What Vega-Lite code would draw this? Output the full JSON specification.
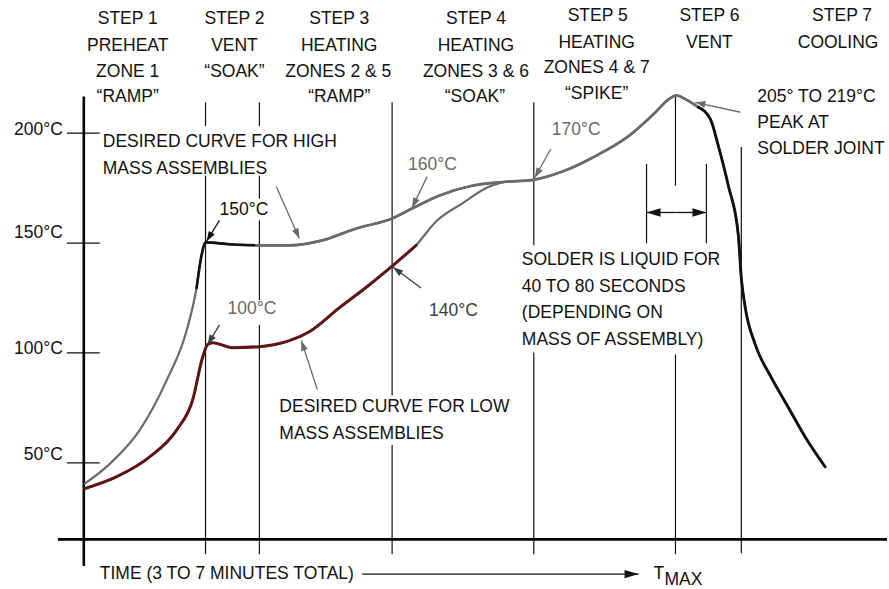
{
  "$schema": "https://vega.github.io/schema/vega-lite/v6.json",
  "width": 889,
  "height": 589,
  "padding": 0,
  "autosize": {"type": "fit", "contains": "padding"},
  "config": {"view": {"stroke": null}, "text": {"font": "Liberation Sans", "fontSize": 17.5}},
  "datasets": {
    "curves": [
      {"series": "high", "t": 1, "T": 40.53},
      {"series": "high", "t": 26, "T": 49.56},
      {"series": "high", "t": 56, "T": 64.92},
      {"series": "high", "t": 83, "T": 87.52},
      {"series": "high", "t": 103, "T": 110.11},
      {"series": "high", "t": 113, "T": 129.54},
      {"series": "high", "t": 118, "T": 144.45},
      {"series": "high", "t": 122, "T": 150.32},
      {"series": "high", "t": 146, "T": 149.42},
      {"series": "high", "t": 173, "T": 148.97},
      {"series": "high", "t": 206, "T": 148.97},
      {"series": "high", "t": 239, "T": 151.23},
      {"series": "high", "t": 273, "T": 156.64},
      {"series": "high", "t": 309, "T": 161.16},
      {"series": "high", "t": 329, "T": 165.68},
      {"series": "high", "t": 356, "T": 171.56},
      {"series": "high", "t": 389, "T": 176.07},
      {"series": "high", "t": 423, "T": 177.88},
      {"series": "high", "t": 451, "T": 178.78},
      {"series": "high", "t": 479, "T": 182.4},
      {"series": "high", "t": 513, "T": 189.63},
      {"series": "high", "t": 546, "T": 198.66},
      {"series": "high", "t": 573, "T": 209.51},
      {"series": "high", "t": 586, "T": 215.38},
      {"series": "high", "t": 594, "T": 217.19},
      {"series": "high", "t": 603, "T": 215.38},
      {"series": "high", "t": 616, "T": 211.76},
      {"series": "high", "t": 628, "T": 206.34},
      {"series": "high", "t": 636, "T": 194.14},
      {"series": "high", "t": 646, "T": 176.07},
      {"series": "high", "t": 656, "T": 153.48},
      {"series": "high", "t": 659, "T": 134.05},
      {"series": "high", "t": 663, "T": 120.48},
      {"series": "high", "t": 673, "T": 103.77},
      {"series": "high", "t": 689, "T": 88.86},
      {"series": "high", "t": 706, "T": 75.31},
      {"series": "high", "t": 723, "T": 61.76},
      {"series": "high", "t": 743, "T": 48.2},
      {"series": "low", "t": 1, "T": 38.27},
      {"series": "low", "t": 33, "T": 43.7},
      {"series": "low", "t": 66, "T": 52.73},
      {"series": "low", "t": 93, "T": 64.92},
      {"series": "low", "t": 109, "T": 78.48},
      {"series": "low", "t": 119, "T": 97.91},
      {"series": "low", "t": 124, "T": 103.77},
      {"series": "low", "t": 129, "T": 104.68},
      {"series": "low", "t": 149, "T": 102.42},
      {"series": "low", "t": 176, "T": 102.87},
      {"series": "low", "t": 206, "T": 105.58},
      {"series": "low", "t": 226, "T": 109.65},
      {"series": "low", "t": 256, "T": 120.49},
      {"series": "low", "t": 286, "T": 130.89},
      {"series": "low", "t": 309, "T": 139.47},
      {"series": "low", "t": 333, "T": 148.97},
      {"series": "low", "t": 353, "T": 159.82},
      {"series": "low", "t": 379, "T": 167.95},
      {"series": "low", "t": 406, "T": 175.63},
      {"series": "low", "t": 423, "T": 177.88}
    ],
    "overlays": [
      {"seg": "high-knee", "tone": "black", "t": 113, "T": 129.54},
      {"seg": "high-knee", "tone": "black", "t": 118, "T": 144.45},
      {"seg": "high-knee", "tone": "black", "t": 122, "T": 150.32},
      {"seg": "high-knee", "tone": "black", "t": 146, "T": 149.42},
      {"seg": "high-knee", "tone": "black", "t": 173, "T": 148.97},
      {"seg": "high-main", "tone": "gray", "t": 173, "T": 148.97},
      {"seg": "high-main", "tone": "gray", "t": 206, "T": 148.97},
      {"seg": "high-main", "tone": "gray", "t": 239, "T": 151.23},
      {"seg": "high-main", "tone": "gray", "t": 273, "T": 156.64},
      {"seg": "high-main", "tone": "gray", "t": 309, "T": 161.16},
      {"seg": "high-main", "tone": "gray", "t": 329, "T": 165.68},
      {"seg": "high-main", "tone": "gray", "t": 356, "T": 171.56},
      {"seg": "high-main", "tone": "gray", "t": 389, "T": 176.07},
      {"seg": "high-main", "tone": "gray", "t": 423, "T": 177.88},
      {"seg": "high-main", "tone": "gray", "t": 451, "T": 178.78},
      {"seg": "high-main", "tone": "gray", "t": 479, "T": 182.4},
      {"seg": "high-main", "tone": "gray", "t": 513, "T": 189.63},
      {"seg": "high-main", "tone": "gray", "t": 546, "T": 198.66},
      {"seg": "high-main", "tone": "gray", "t": 573, "T": 209.51},
      {"seg": "high-main", "tone": "gray", "t": 586, "T": 215.38},
      {"seg": "high-main", "tone": "gray", "t": 594, "T": 217.19},
      {"seg": "high-main", "tone": "gray", "t": 603, "T": 215.38},
      {"seg": "high-main", "tone": "gray", "t": 616, "T": 211.76},
      {"seg": "cooling", "tone": "black", "t": 616, "T": 211.76},
      {"seg": "cooling", "tone": "black", "t": 628, "T": 206.34},
      {"seg": "cooling", "tone": "black", "t": 636, "T": 194.14},
      {"seg": "cooling", "tone": "black", "t": 646, "T": 176.07},
      {"seg": "cooling", "tone": "black", "t": 656, "T": 153.48},
      {"seg": "cooling", "tone": "black", "t": 659, "T": 134.05},
      {"seg": "cooling", "tone": "black", "t": 663, "T": 120.48},
      {"seg": "cooling", "tone": "black", "t": 673, "T": 103.77},
      {"seg": "cooling", "tone": "black", "t": 689, "T": 88.86},
      {"seg": "cooling", "tone": "black", "t": 706, "T": 75.31},
      {"seg": "cooling", "tone": "black", "t": 723, "T": 61.76},
      {"seg": "cooling", "tone": "black", "t": 743, "T": 48.2},
      {"seg": "low-main", "tone": "maroon", "t": 1, "T": 38.27},
      {"seg": "low-main", "tone": "maroon", "t": 33, "T": 43.7},
      {"seg": "low-main", "tone": "maroon", "t": 66, "T": 52.73},
      {"seg": "low-main", "tone": "maroon", "t": 93, "T": 64.92},
      {"seg": "low-main", "tone": "maroon", "t": 109, "T": 78.48},
      {"seg": "low-main", "tone": "maroon", "t": 119, "T": 97.91},
      {"seg": "low-main", "tone": "maroon", "t": 124, "T": 103.77},
      {"seg": "low-main", "tone": "maroon", "t": 129, "T": 104.68},
      {"seg": "low-main", "tone": "maroon", "t": 149, "T": 102.42},
      {"seg": "low-main", "tone": "maroon", "t": 176, "T": 102.87},
      {"seg": "low-main", "tone": "maroon", "t": 206, "T": 105.58},
      {"seg": "low-main", "tone": "maroon", "t": 226, "T": 109.65},
      {"seg": "low-main", "tone": "maroon", "t": 256, "T": 120.49},
      {"seg": "low-main", "tone": "maroon", "t": 286, "T": 130.89},
      {"seg": "low-main", "tone": "maroon", "t": 309, "T": 139.47},
      {"seg": "low-main", "tone": "maroon", "t": 333, "T": 148.97}
    ],
    "vlines": [
      {"t": 122, "T": 214.0, "T2": 203.2}, {"t": 122, "T": 180.6, "T2": 8.45},
      {"t": 176, "T": 214.0, "T2": 203.2}, {"t": 176, "T": 180.6, "T2": 170.2},
      {"t": 176, "T": 160.3, "T2": 124.1}, {"t": 176, "T": 112.8, "T2": 8.45},
      {"t": 309, "T": 214.0, "T2": 80.7}, {"t": 309, "T": 58.1, "T2": 8.45},
      {"t": 451, "T": 214.0, "T2": 148.97}, {"t": 451, "T": 100.2, "T2": 8.45},
      {"t": 593, "T": 216.7, "T2": 176.1}, {"t": 593, "T": 99.3, "T2": 8.45},
      {"t": 659, "T": 193.7, "T2": 8.9},
      {"t": 564, "T": 186.0, "T2": 149.9},
      {"t": 624, "T": 186.0, "T2": 149.9}
    ],
    "ticks": [
      {"t": -17, "t2": 16, "T": 200},
      {"t": -17, "t2": 16, "T": 150},
      {"t": -17, "t2": 16, "T": 100},
      {"t": -17, "t2": 16, "T": 50}
    ],
    "axes": [
      {"t": 0, "t2": 0, "T": 216.7, "T2": 3.03},
      {"t": -26, "t2": 805, "T": 15.2, "T2": 15.2}
    ],
    "arrows": [
      {"kind": "small", "tone": "black", "t": 136, "T": 160.3, "t2": 123, "T2": 150.8},
      {"kind": "small", "tone": "dark", "t": 136, "T": 112.8, "t2": 124, "T2": 103.8},
      {"kind": "small", "tone": "gray", "t": 193, "T": 175.6, "t2": 216, "T2": 152.1},
      {"kind": "small", "tone": "gray", "t": 234, "T": 83.4, "t2": 218, "T2": 105.6},
      {"kind": "small", "tone": "gray", "t": 344, "T": 180.1, "t2": 329, "T2": 166.1},
      {"kind": "small", "tone": "dark", "t": 338, "T": 129.5, "t2": 310, "T2": 139.0},
      {"kind": "small", "tone": "gray", "t": 468, "T": 192.8, "t2": 452, "T2": 179.7},
      {"kind": "small", "tone": "gray", "t": 658, "T": 209.5, "t2": 613, "T2": 214.0},
      {"kind": "big", "tone": "black", "t": 594, "T": 163.9, "t2": 564, "T2": 163.9},
      {"kind": "big", "tone": "black", "t": 594, "T": 163.9, "t2": 624, "T2": 163.9},
      {"kind": "big", "tone": "black", "t": 279, "T": -0.6, "t2": 556, "T2": -0.6}
    ],
    "headers": [
      {"t": 44, "T": 252.0, "text": "STEP 1"},
      {"t": 44, "T": 239.8, "text": "PREHEAT"},
      {"t": 44, "T": 228.0, "text": "ZONE 1"},
      {"t": 44, "T": 216.3, "text": "“RAMP”"},
      {"t": 151, "T": 252.0, "text": "STEP 2"},
      {"t": 151, "T": 239.8, "text": "VENT"},
      {"t": 151, "T": 228.0, "text": "“SOAK”"},
      {"t": 256, "T": 252.0, "text": "STEP 3"},
      {"t": 256, "T": 239.8, "text": "HEATING"},
      {"t": 255, "T": 228.0, "text": "ZONES 2 & 5"},
      {"t": 256, "T": 216.3, "text": "“RAMP”"},
      {"t": 393, "T": 252.0, "text": "STEP 4"},
      {"t": 393, "T": 239.8, "text": "HEATING"},
      {"t": 393, "T": 228.0, "text": "ZONES 3 & 6"},
      {"t": 392, "T": 216.3, "text": "“SOAK”"},
      {"t": 515, "T": 253.3, "text": "STEP 5"},
      {"t": 514, "T": 241.1, "text": "HEATING"},
      {"t": 514, "T": 229.4, "text": "ZONES 4 & 7"},
      {"t": 514, "T": 217.6, "text": "“SPIKE”"},
      {"t": 627, "T": 253.3, "text": "STEP 6"},
      {"t": 627, "T": 241.1, "text": "VENT"},
      {"t": 760, "T": 253.3, "text": "STEP 7"},
      {"t": 756, "T": 241.1, "text": "COOLING"}
    ],
    "notes": [
      {"tone": "black", "t": 19, "T": 195.9, "text": "DESIRED CURVE FOR HIGH"},
      {"tone": "black", "t": 19, "T": 183.8, "text": "MASS ASSEMBLIES"},
      {"tone": "black", "t": 136, "T": 165.2, "text": "150°C"},
      {"tone": "gray", "t": 144, "T": 120.0, "text": "100°C"},
      {"tone": "black", "t": 196, "T": 75.3, "text": "DESIRED CURVE FOR LOW"},
      {"tone": "black", "t": 196, "T": 63.1, "text": "MASS ASSEMBLIES"},
      {"tone": "gray", "t": 325, "T": 185.6, "text": "160°C"},
      {"tone": "dark", "t": 346, "T": 119.1, "text": "140°C"},
      {"tone": "gray", "t": 469, "T": 201.4, "text": "170°C"},
      {"tone": "black", "t": 439, "T": 142.2, "text": "SOLDER IS LIQUID FOR"},
      {"tone": "black", "t": 439, "T": 130.0, "text": "40 TO 80 SECONDS"},
      {"tone": "black", "t": 439, "T": 118.2, "text": "(DEPENDING ON"},
      {"tone": "black", "t": 439, "T": 106.0, "text": "MASS OF ASSEMBLY)"},
      {"tone": "black", "t": 675, "T": 216.3, "text": "205° TO 219°C"},
      {"tone": "black", "t": 675, "T": 204.5, "text": "PEAK AT"},
      {"tone": "black", "t": 675, "T": 192.8, "text": "SOLDER JOINT"},
      {"tone": "black", "t": 16, "T": -0.6, "text": "TIME (3 TO 7 MINUTES TOTAL)"},
      {"tone": "black", "t": 571, "T": -0.6, "text": "T"},
      {"tone": "black", "t": 582, "T": -3.3, "text": "MAX"}
    ],
    "ylabels": [
      {"t": -21, "T": 201.4, "text": "200°C"},
      {"t": -21, "T": 154.4, "text": "150°C"},
      {"t": -21, "T": 101.97, "text": "100°C"},
      {"t": -21, "T": 53.6, "text": "50°C"}
    ]
  },
  "encoding": {
    "x": {"field": "t", "type": "quantitative", "scale": {"domain": [-84, 805], "nice": false, "zero": false}, "axis": null},
    "y": {"field": "T", "type": "quantitative", "scale": {"domain": [-5.56, 260.56], "nice": false, "zero": false}, "axis": null}
  },
  "layer": [
    {
      "data": {"name": "vlines"},
      "mark": {"type": "rule", "color": "#111111", "strokeWidth": 1.2},
      "encoding": {"y2": {"field": "T2"}}
    },
    {
      "data": {"name": "ticks"},
      "mark": {"type": "rule", "color": "#111111", "strokeWidth": 1.2},
      "encoding": {"x2": {"field": "t2"}}
    },
    {
      "data": {"name": "axes"},
      "mark": {"type": "rule", "color": "#000000", "strokeWidth": 2.6},
      "encoding": {"x2": {"field": "t2"}, "y2": {"field": "T2"}}
    },
    {
      "data": {"name": "curves"},
      "mark": {"type": "line", "interpolate": "monotone", "color": "#6a6a6a", "strokeWidth": 2.2, "strokeCap": "round", "strokeJoin": "round"},
      "encoding": {"detail": {"field": "series", "type": "nominal"}}
    },
    {
      "data": {"name": "overlays"},
      "mark": {"type": "line", "interpolate": "monotone", "strokeCap": "round", "strokeJoin": "round"},
      "encoding": {
        "detail": {"field": "seg", "type": "nominal"},
        "color": {"field": "tone", "type": "nominal", "legend": null,
          "scale": {"domain": ["black", "gray", "dark", "maroon"], "range": ["#111111", "#6a6a6a", "#3c3c3c", "#5e1515"]}},
        "strokeWidth": {"field": "seg", "type": "nominal", "legend": null,
          "scale": {"domain": ["high-knee", "high-main", "cooling", "low-main"], "range": [2.6, 3, 3.6, 3.2]}}
      }
    },
    {
      "data": {"name": "arrows"},
      "mark": {"type": "rule", "strokeWidth": 1.3},
      "encoding": {
        "x2": {"field": "t2"}, "y2": {"field": "T2"},
        "color": {"field": "tone", "type": "nominal", "legend": null,
          "scale": {"domain": ["black", "gray", "dark", "maroon"], "range": ["#111111", "#6a6a6a", "#3c3c3c", "#5e1515"]}}
      }
    },
    {
      "data": {"name": "arrows"},
      "transform": [
        {"filter": "datum.kind === 'small'"},
        {"calculate": "atan2(datum.t2 - datum.t, (datum.T2 - datum.T) * 2.2133) * 180 / PI", "as": "ang"}
      ],
      "mark": {"type": "point", "filled": true, "opacity": 1, "size": 100, "shape": "M0,0L-0.7,2L0.7,2Z"},
      "encoding": {
        "x": {"field": "t2", "type": "quantitative"},
        "y": {"field": "T2", "type": "quantitative"},
        "angle": {"field": "ang", "type": "quantitative", "scale": null},
        "color": {"field": "tone", "type": "nominal", "legend": null,
          "scale": {"domain": ["black", "gray", "dark", "maroon"], "range": ["#111111", "#6a6a6a", "#3c3c3c", "#5e1515"]}}
      }
    },
    {
      "data": {"name": "arrows"},
      "transform": [
        {"filter": "datum.kind === 'big'"},
        {"calculate": "atan2(datum.t2 - datum.t, (datum.T2 - datum.T) * 2.2133) * 180 / PI", "as": "ang"}
      ],
      "mark": {"type": "point", "filled": true, "opacity": 1, "size": 196, "shape": "M0,0L-0.6,2L0.6,2Z"},
      "encoding": {
        "x": {"field": "t2", "type": "quantitative"},
        "y": {"field": "T2", "type": "quantitative"},
        "angle": {"field": "ang", "type": "quantitative", "scale": null},
        "color": {"value": "#111111"}
      }
    },
    {
      "data": {"name": "headers"},
      "mark": {"type": "text", "align": "center", "baseline": "middle", "color": "#111111"},
      "encoding": {"text": {"field": "text"}}
    },
    {
      "data": {"name": "notes"},
      "mark": {"type": "text", "align": "left", "baseline": "middle"},
      "encoding": {
        "text": {"field": "text"},
        "color": {"field": "tone", "type": "nominal", "legend": null,
          "scale": {"domain": ["black", "gray", "dark", "maroon"], "range": ["#111111", "#5c5c5c", "#3c3c3c", "#5e1515"]}}
      }
    },
    {
      "data": {"name": "ylabels"},
      "mark": {"type": "text", "align": "right", "baseline": "middle", "color": "#111111"},
      "encoding": {"text": {"field": "text"}}
    }
  ]
}
